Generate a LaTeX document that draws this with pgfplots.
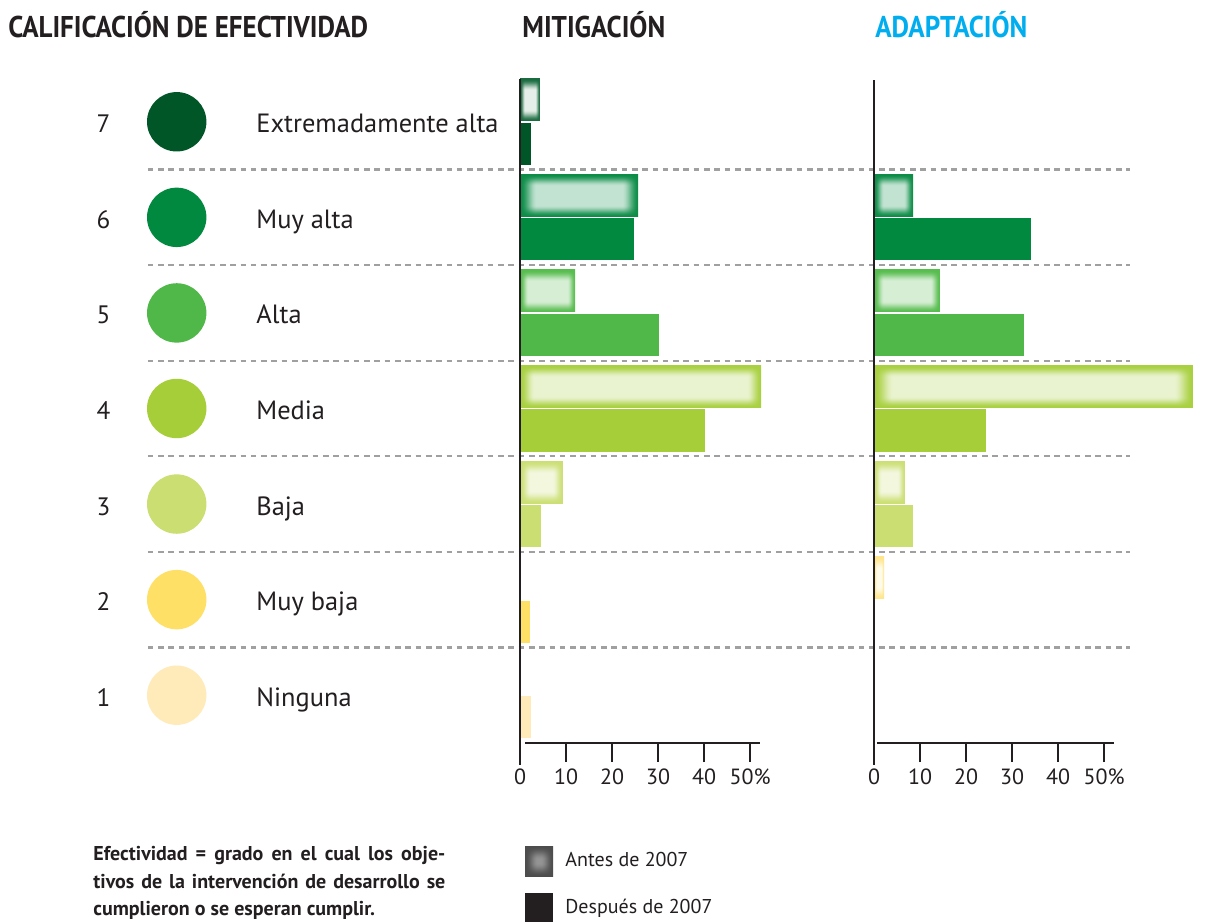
\documentclass[border=0pt]{standalone}
\usepackage{pgfplots}
\pgfplotsset{compat=1.18}
\usepackage{fontspec}
\setmainfont{PT Sans}
\newfontfamily\titlefont{PT Sans}[FakeStretch=0.9]

\definecolor{c7}{RGB}{0,86,38}
\definecolor{c6}{RGB}{0,137,63}
\definecolor{c5}{RGB}{80,184,72}
\definecolor{c4}{RGB}{166,206,57}
\definecolor{c3}{RGB}{203,222,114}
\definecolor{c2}{RGB}{255,224,102}
\definecolor{c1}{RGB}{255,235,185}
\definecolor{txt}{RGB}{35,31,32}
\definecolor{cyanT}{RGB}{0,174,239}
\definecolor{sepc}{RGB}{160,160,160}

% #1 name, #2-#4 outer rgb, #5-#7 inner rgb, #8 fade x, #9 fade y
\newcommand\declglow[9]{%
 \pgfdeclarefunctionalshading{#1}{\pgfpoint{-50bp}{-50bp}}{\pgfpoint{50bp}{50bp}}{}{%
  abs 25 div 1 exch sub #9 div dup 1 gt {pop 1} if dup 0 lt {pop 0} if
  dup dup mul exch 2 mul 3 exch sub mul
  exch abs 25 div 1 exch sub #8 div dup 1 gt {pop 1} if dup 0 lt {pop 0} if
  dup dup mul exch 2 mul 3 exch sub mul
  mul
  dup dup #5 mul exch 1 exch sub #2 mul add exch
  dup dup #6 mul exch 1 exch sub #3 mul add exch
  dup #7 mul exch 1 exch sub #4 mul add
 }}
\declglow{glow7}{0.10}{0.42}{0.25}{0.90}{0.935}{0.91}{0.5}{0.55}
\declglow{glow6}{0.05}{0.55}{0.28}{0.76}{0.89}{0.82}{0.28}{0.55}
\declglow{glow6n}{0.05}{0.55}{0.28}{0.76}{0.89}{0.82}{0.5}{0.55}
\declglow{glow5}{0.34}{0.74}{0.31}{0.84}{0.935}{0.83}{0.3}{0.55}
\declglow{glow4w}{0.66}{0.815}{0.25}{0.913}{0.952}{0.81}{0.12}{0.55}
\declglow{glow3}{0.80}{0.875}{0.46}{0.95}{0.968}{0.87}{0.5}{0.6}
\declglow{glow2}{1}{0.90}{0.55}{1}{0.985}{0.92}{0.6}{0.6}
\declglow{glowgray}{0.30}{0.30}{0.30}{0.58}{0.58}{0.58}{0.9}{0.9}

\pgfplotsset{
  barbase/.style={xbar, bar width=0.44, bar shift=0pt, draw=none},
  antes/.style={barbase, shade, shading=#1},
  desp/.style={barbase, fill=#1},
  panel/.style={anchor=south west, scale only axis, width=120.06pt, height=334.5pt,
    xmin=0, xmax=52.2, ymin=0.5, ymax=7.5, enlargelimits=false, clip=false,
    axis line style={draw=none}, ytick=\empty,
    xtick={0,10,20,30,40,50}, xticklabels={0,10,20,30,40,50\%},
    xtick align=outside, tick pos=left, major tick length=9.5pt,
    tick style={line width=0.6pt, color=txt},
    xticklabel style={font=\fontsize{11}{13}\selectfont, text=txt}},
}
\tikzset{sep/.style={draw=sepc, line width=1.1pt, dash pattern=on 2.8pt off 2.35pt}}

\begin{document}
\begin{tikzpicture}
\useasboundingbox (0,0) rectangle (616pt,461pt);
\fill[white] (0,0) rectangle (616pt,461pt);

% titles
\node[anchor=base west, inner sep=0, text=txt, font=\titlefont\bfseries\fontsize{15}{18}\selectfont] at (4pt,442.25pt) {CALIFICACIÓN DE EFECTIVIDAD};
\node[anchor=base west, inner sep=0, text=txt, font=\titlefont\bfseries\fontsize{15}{18}\selectfont] at (261pt,442.25pt) {MITIGACIÓN};
\node[anchor=base west, inner sep=0, text=cyanT, font=\titlefont\bfseries\fontsize{15}{18}\selectfont] at (437.5pt,442.25pt) {ADAPTACIÓN};

% left column
\foreach \k/\lab in {7/Extremadamente alta, 6/Muy alta, 5/Alta, 4/Media, 3/Baja, 2/Muy baja, 1/Ninguna}{
  \pgfmathsetmacro\yy{89.5+(\k-0.5)*47.786}
  \node[anchor=base, inner sep=0, text=txt, font=\fontsize{12.6}{14}\selectfont] at (51.75pt,\yy pt-5.5pt) {\k};
  \fill[c\k] (88.35pt,\yy pt) circle[radius=14.85pt];
  \node[anchor=base west, inner sep=0, text=txt, font=\fontsize{13.2}{15}\selectfont] at (128pt,\yy pt-5.5pt) {\lab};
}

% MITIGACION
\begin{axis}[panel, at={(260pt,89.5pt)}]
\draw[sep] (axis cs:-80.9,1.5) -- (axis cs:132.6,1.5);
\draw[sep] (axis cs:-80.9,2.5) -- (axis cs:132.6,2.5);
\draw[sep] (axis cs:-80.9,3.5) -- (axis cs:132.6,3.5);
\draw[sep] (axis cs:-80.9,4.5) -- (axis cs:132.6,4.5);
\draw[sep] (axis cs:-80.9,5.5) -- (axis cs:132.6,5.5);
\draw[sep] (axis cs:-80.9,6.5) -- (axis cs:132.6,6.5);
\addplot[antes=glow7] coordinates {(4.3,7.23)};
\addplot[desp=c7] coordinates {(2.4,6.77)};
\addplot[antes=glow6] coordinates {(25.7,6.23)};
\addplot[desp=c6] coordinates {(24.8,5.77)};
\addplot[antes=glow5] coordinates {(12.0,5.23)};
\addplot[desp=c5] coordinates {(30.2,4.77)};
\addplot[antes=glow4w] coordinates {(52.4,4.23)};
\addplot[desp=c4] coordinates {(40.2,3.77)};
\addplot[antes=glow3] coordinates {(9.3,3.23)};
\addplot[desp=c3] coordinates {(4.6,2.77)};
\addplot[desp=c2] coordinates {(2.2,1.77)};
\addplot[desp=c1] coordinates {(2.4,0.77)};
\draw[line width=0.6pt, txt] (axis cs:0,7.448) -- (axis cs:0,0.27);
\draw[line width=0.6pt, txt] (axis cs:1.1,0.5) -- (axis cs:52.2,0.5);
\end{axis}

% ADAPTACION
\begin{axis}[panel, at={(437pt,89.5pt)}]
\addplot[antes=glow6n] coordinates {(8.5,6.23)};
\addplot[desp=c6] coordinates {(34.1,5.77)};
\addplot[antes=glow5] coordinates {(14.3,5.23)};
\addplot[desp=c5] coordinates {(32.6,4.77)};
\addplot[antes=glow4w] coordinates {(69.3,4.23)};
\addplot[desp=c4] coordinates {(24.3,3.77)};
\addplot[antes=glow3] coordinates {(6.7,3.23)};
\addplot[desp=c3] coordinates {(8.5,2.77)};
\addplot[antes=glow2] coordinates {(2.2,2.23)};
\draw[line width=0.6pt, txt] (axis cs:0,7.437) -- (axis cs:0,0.27);
\draw[line width=0.6pt, txt] (axis cs:0.65,0.5) -- (axis cs:52.2,0.5);
\end{axis}

% footnote
\node[anchor=base west, inner sep=0, text=txt, font=\bfseries\fontsize{10}{12}\selectfont] at (46.5pt,30.75pt) {\makebox[176pt][s]{Efectividad = grado en el cual los obje-}};
\node[anchor=base west, inner sep=0, text=txt, font=\bfseries\fontsize{10}{12}\selectfont] at (46.5pt,16.75pt) {\makebox[176pt][s]{tivos de la intervención de desarrollo se}};
\node[anchor=base west, inner sep=0, text=txt, font=\bfseries\fontsize{10}{12}\selectfont] at (46.5pt,3.25pt) {cumplieron o se esperan cumplir.};

% legend
\shade[shading=glowgray] (262.5pt,23pt) rectangle (276.5pt,38pt);
\fill[txt] (262.5pt,0pt) rectangle (276.5pt,14.5pt);
\node[anchor=base west, inner sep=0, text=txt, font=\fontsize{10}{12}\selectfont] at (282.5pt,28pt) {Antes de 2007};
\node[anchor=base west, inner sep=0, text=txt, font=\fontsize{10}{12}\selectfont] at (282.5pt,4.25pt) {Después de 2007};
\end{tikzpicture}
\end{document}
